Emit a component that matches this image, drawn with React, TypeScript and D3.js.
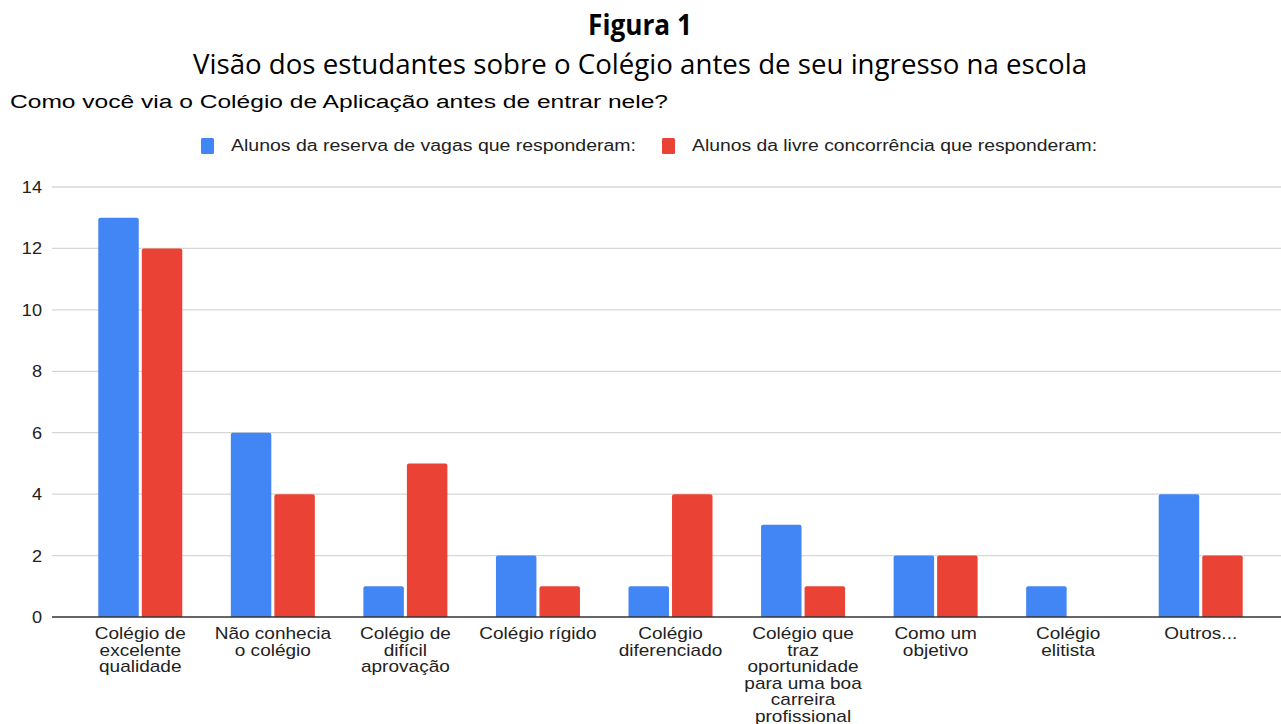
import React from "react";
import * as d3 from "d3";

const figureLabel = "Figura 1";
const figureTitle = "Visão dos estudantes sobre o Colégio antes de seu ingresso na escola";
const chartTitle = "Como você via o Colégio de Aplicação antes de entrar nele?";
const seriesNames = [
  "Alunos da reserva de vagas que responderam:",
  "Alunos da livre concorrência que responderam:",
];
const seriesColors = ["#4285F4", "#EA4335"];
const categoryLines: string[][] = [
  ["Colégio de", "excelente", "qualidade"],
  ["Não conhecia", "o colégio"],
  ["Colégio de", "difícil", "aprovação"],
  ["Colégio rígido"],
  ["Colégio", "diferenciado"],
  ["Colégio que", "traz", "oportunidade", "para uma boa", "carreira", "profissional"],
  ["Como um", "objetivo"],
  ["Colégio", "elitista"],
  ["Outros..."],
];
const categories = categoryLines.map((l) => l.join(" "));
const reservaValues = [13, 6, 1, 2, 1, 3, 2, 1, 4];
const livreValues = [12, 4, 5, 1, 4, 1, 2, 0, 2];
const yTicks = [0, 2, 4, 6, 8, 10, 12, 14];

const W = 1281;
const H = 724;
const font = "'Liberation Sans', Arial, sans-serif";
const titleFont = "'Open Sans', 'Noto Sans', sans-serif";

export default function App() {
  const x = d3.scaleBand<string>().domain(categories).range([74, 1267]).padding(0);
  const y = d3.scaleLinear().domain([0, 14]).range([617, 187]);
  const bw = x.bandwidth();
  const inner = d3
    .scaleBand<number>()
    .domain([0, 1])
    .range([bw / 2 - 42, bw / 2 + 42])
    .paddingInner(0.07);
  const series = [reservaValues, livreValues];

  return (
    <svg
      width={W}
      height={H}
      style={{ position: "absolute", left: 0, top: 0, background: "#fff" }}
    >
      <text x={640} y={35} textAnchor="middle" fontFamily={titleFont} fontWeight="bold" fontSize={28} textLength={104} lengthAdjust="spacingAndGlyphs" fill="#000">
        {figureLabel}
      </text>
      <text x={640} y={74} textAnchor="middle" fontFamily={titleFont} fontSize={28} textLength={894} lengthAdjust="spacingAndGlyphs" fill="#000">
        {figureTitle}
      </text>
      <text x={10} y={108} fontFamily={font} fontSize={18} textLength={658} lengthAdjust="spacingAndGlyphs" fill="#000">
        {chartTitle}
      </text>

      {/* legend */}
      {seriesNames.map((s, i) => {
        const lx = i === 0 ? 201 : 662;
        return (
          <g key={s}>
            <rect x={lx} y={138} width={13} height={16} rx={1.5} fill={seriesColors[i]} />
            <text x={lx + 30} y={151} fontFamily={font} fontSize={16} textLength={405} lengthAdjust="spacingAndGlyphs" fill="#222">
              {s}
            </text>
          </g>
        );
      })}

      {/* grid */}
      {yTicks.map((t) => (
        <g key={t}>
          {t !== 0 && (
            <line x1={52} x2={1281} y1={y(t)} y2={y(t)} stroke="#d6d6d6" strokeWidth={1.3} />
          )}
          <g transform={`translate(42,${y(t)}) scale(1.1,1)`}>
            <text x={0} y={0} dy="0.36em" textAnchor="end" fontFamily={font} fontSize={16.5} fill="#222">
              {t}
            </text>
          </g>
        </g>
      ))}

      {/* bars */}
      {categories.map((c, ci) => (
        <g key={c} transform={`translate(${x(c)},0)`}>
          {series.map((vals, si) => {
            const v = vals[ci];
            if (v <= 0) return null;
            const top = y(v);
            const bx = inner(si)!;
            const w = inner.bandwidth();
            const r = 2;
            const path = `M${bx},${y(0)} V${top + r} Q${bx},${top} ${bx + r},${top} H${bx + w - r} Q${bx + w},${top} ${bx + w},${top + r} V${y(0)} Z`;
            return <path key={si} d={path} fill={seriesColors[si]} />;
          })}
        </g>
      ))}

      {/* baseline */}
      <line x1={52} x2={1281} y1={y(0)} y2={y(0)} stroke="#333" strokeWidth={1.5} />

      {/* x labels */}
      {categoryLines.map((lines, ci) => (
        <g key={ci} transform={`translate(${x(categories[ci])! + bw / 2},0) scale(1.12,1)`}>
          <text x={0} y={639} textAnchor="middle" fontFamily={font} fontSize={17} fill="#222">
            {lines.map((ln, li) => (
              <tspan key={li} x={0} y={639 + li * 16.6}>
                {ln}
              </tspan>
            ))}
          </text>
        </g>
      ))}
    </svg>
  );
}
